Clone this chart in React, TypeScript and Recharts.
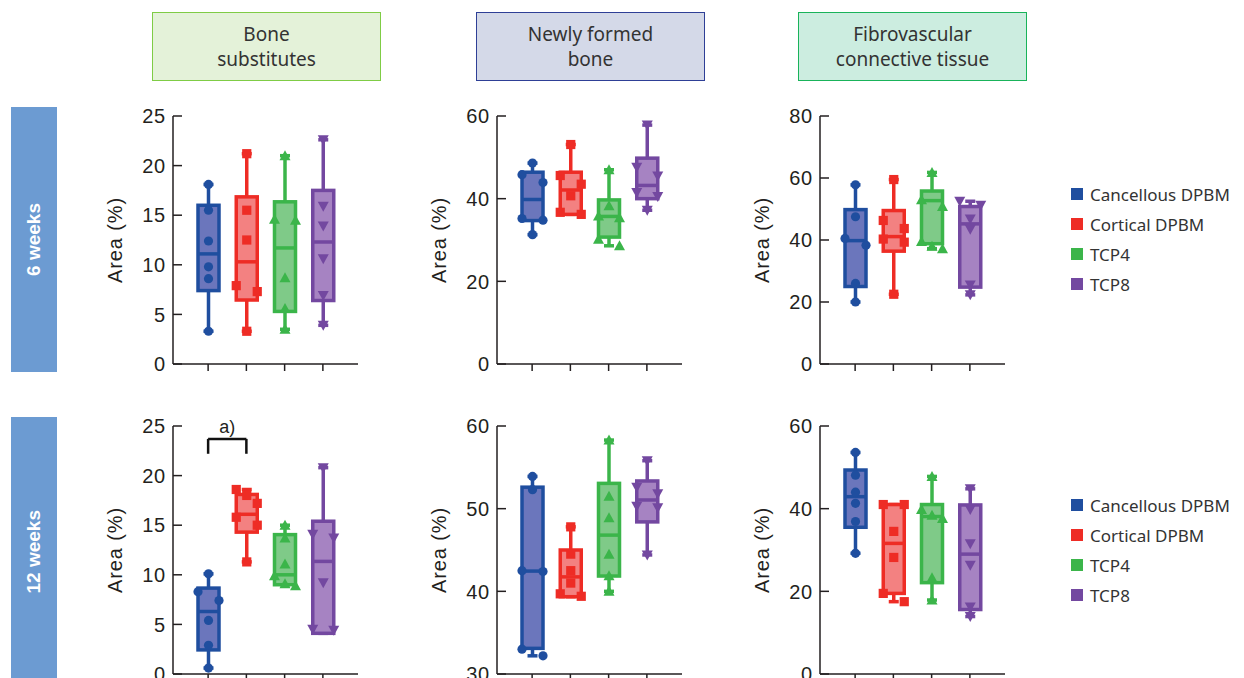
import React from 'react';
import { ComposedChart, Bar, XAxis, YAxis, ReferenceLine } from 'recharts';

const groups = ['Cancellous DPBM', 'Cortical DPBM', 'TCP4', 'TCP8'];
const strokeColors = ['#1f4e9f', '#ee2c25', '#3bb54a', '#7348a0'];
const fillColors = ['#6b76bc', '#f38181', '#7fca88', '#a683c2'];

const columnTitles = [['Bone', 'substitutes'], ['Newly formed', 'bone'], ['Fibrovascular', 'connective tissue']];
const rowTitles = ['6 weeks', '12 weeks'];

// stats per group: [min, q1, median, q3, max]
const bone6Stats = [[3.3, 7.4, 11.1, 16.0, 18.1], [3.3, 6.45, 10.3, 16.85, 21.2], [3.5, 5.3, 11.7, 16.35, 21.0], [3.9, 6.4, 12.3, 17.5, 22.6]];
const bone6Points = [[18.1, 15.5, 12.4, 9.8, 8.6, 3.3], [21.2, 15.5, 12.5, 7.9, 7.3, 3.3], [21.0, 14.6, 14.5, 8.7, 5.6, 3.5], [22.6, 15.9, 13.9, 10.6, 6.9, 3.9]];

const new6Stats = [[31.3, 34.7, 39.8, 46.4, 48.6], [36.2, 36.2, 42.1, 46.4, 53.1], [28.6, 30.7, 35.7, 39.7, 47.0], [37.2, 40.0, 43.2, 49.8, 57.8]];
const new6Points = [[48.6, 45.8, 43.9, 35.2, 34.8, 31.3], [53.1, 45.6, 43.5, 40.7, 36.7, 36.2], [47.0, 38.3, 35.8, 35.4, 30.2, 28.6], [57.8, 47.6, 45.5, 41.5, 40.5, 37.2]];

const fib6Stats = [[20.0, 25.0, 39.8, 49.8, 57.8], [22.5, 36.4, 41.1, 49.5, 59.5], [37.2, 38.8, 52.7, 55.8, 61.8], [22.3, 24.8, 45.2, 50.8, 52.5]];
const fib6Points = [[57.8, 47.5, 40.5, 38.3, 26.0, 20.0], [59.5, 46.3, 43.7, 40.3, 39.3, 22.5], [61.8, 53.0, 50.8, 39.5, 38.0, 37.2], [52.5, 51.2, 46.8, 43.5, 25.5, 22.3]];

const bone12Stats = [[0.6, 2.43, 6.3, 8.66, 10.1], [11.3, 14.3, 16.1, 18.1, 18.6], [9.0, 9.0, 10.0, 14.05, 15.0], [4.1, 4.1, 11.35, 15.4, 20.8]];
const bone12Points = [[10.1, 8.3, 7.4, 5.4, 2.9, 0.6], [18.6, 18.0, 17.2, 15.8, 15.0, 11.3], [15.0, 13.7, 11.1, 9.9, 9.1, 8.9], [20.8, 14.1, 13.7, 9.2, 4.5, 4.4]];

const new12Stats = [[32.2, 33.1, 42.45, 52.6, 53.9], [39.35, 39.35, 41.75, 45.0, 47.8], [40.0, 41.85, 46.8, 53.06, 58.3], [44.4, 48.4, 51.05, 53.35, 55.8]];
const new12Points = [[53.9, 52.3, 42.5, 42.4, 33.0, 32.2], [47.8, 44.5, 42.5, 41.0, 39.7, 39.4], [58.3, 51.5, 48.9, 44.5, 41.9, 40.0], [55.8, 52.6, 51.8, 50.3, 50.1, 44.4]];

const fib12Stats = [[29.2, 35.5, 42.9, 49.35, 53.6], [17.5, 19.5, 31.6, 41.0, 41.0], [17.9, 22.1, 38.1, 41.0, 47.8], [13.9, 15.6, 29.0, 40.9, 44.8]];
const fib12Points = [[53.6, 48.1, 44.0, 41.3, 36.9, 29.2], [41.0, 41.0, 34.5, 28.2, 19.5, 17.5], [47.8, 39.8, 38.4, 37.6, 23.3, 17.9], [44.8, 39.8, 31.5, 26.3, 16.2, 13.9]];

const ticks25 = [0, 5, 10, 15, 20, 25];
const ticks60 = [0, 20, 40, 60];
const ticks80 = [0, 20, 40, 60, 80];
const ticks30to60 = [30, 40, 50, 60];

const FONT_AXIS = "'Liberation Sans', Arial, sans-serif";
const FONT_TEXT = "'Noto Sans', 'Open Sans', sans-serif";
const AXIS_COLOR = '#231f20';

function Marker({ kind, cx, cy, color }: { kind: number; cx: number; cy: number; color: string }) {
  if (kind === 0) return <circle cx={cx} cy={cy} r={4.6} fill={color} />;
  if (kind === 1) return <rect x={cx - 4.6} y={cy - 4.6} width={9.2} height={9.2} fill={color} />;
  if (kind === 2) return <polygon points={`${cx},${cy - 5.5} ${cx + 5.5},${cy + 4.5} ${cx - 5.5},${cy + 4.5}`} fill={color} />;
  return <polygon points={`${cx},${cy + 5.5} ${cx + 5.5},${cy - 4.5} ${cx - 5.5},${cy - 4.5}`} fill={color} />;
}

function BoxShape(props: any) {
  const { x, y, width, height, payload } = props;
  const idx: number = payload.idx;
  const stats: number[] = payload.stats;
  const pts: number[] = payload.points;
  const [mn, q1, med, q3, mx] = stats;
  const top = Math.min(y, y + height);
  const bottom = Math.max(y, y + height);
  const ppu = (bottom - top) / (mx - mn);
  const py = (v: number) => bottom - (v - mn) * ppu;
  const cx = x + width / 2;
  const stroke = strokeColors[idx];
  const fill = fillColors[idx];
  const sw = 3.5;
  const capW = 5;
  // spread near-overlapping points horizontally (beeswarm-like)
  const sorted = pts.map((v) => ({ v, y: py(v) })).sort((a, b) => a.y - b.y);
  const clusters: { v: number; y: number }[][] = [];
  sorted.forEach((p) => {
    const last = clusters[clusters.length - 1];
    if (last && p.y - last[last.length - 1].y < 9) last.push(p);
    else clusters.push([p]);
  });
  const placed: { cx: number; cy: number }[] = [];
  clusters.forEach((c) => {
    c.forEach((p, i) => {
      let off = 0;
      if (c.length > 1) off = -width / 2 + (i * width) / (c.length - 1);
      placed.push({ cx: cx + off, cy: p.y });
    });
  });
  return (
    <g>
      <line x1={cx} x2={cx} y1={py(mx)} y2={py(mn)} stroke={stroke} strokeWidth={sw} />
      <line x1={cx - capW} x2={cx + capW} y1={py(mx)} y2={py(mx)} stroke={stroke} strokeWidth={sw} />
      <line x1={cx - capW} x2={cx + capW} y1={py(mn)} y2={py(mn)} stroke={stroke} strokeWidth={sw} />
      <rect x={x} y={py(q3)} width={width} height={Math.max(0.5, py(q1) - py(q3))} fill={fill} stroke={stroke} strokeWidth={sw} />
      <line x1={x} x2={x + width} y1={py(med)} y2={py(med)} stroke={stroke} strokeWidth={sw} />
      {placed.map((p, i) => (
        <Marker key={i} kind={idx} cx={p.cx} cy={p.cy} color={stroke} />
      ))}
    </g>
  );
}

function YTick(props: any) {
  const { x, y, payload } = props;
  return (
    <g>
      <line x1={x + 6} x2={x + 15} y1={y} y2={y} stroke={AXIS_COLOR} strokeWidth={1.5} />
      <text x={x - 1} y={y} dy="0.36em" textAnchor="end" fontSize={20} letterSpacing={0.8} fontFamily={FONT_AXIS} fill={AXIS_COLOR}>
        {payload.value}
      </text>
    </g>
  );
}

function AreaLabel(props: any) {
  const vb = props.viewBox || { x: 0, y: 0, width: 0, height: 0 };
  const lx = vb.x + 15;
  const ly = vb.y + vb.height / 2;
  return (
    <text x={lx} y={ly} transform={`rotate(-90, ${lx}, ${ly})`} textAnchor="middle" dominantBaseline="central" fontSize={20} letterSpacing={0.9} fontFamily={FONT_AXIS} fill={AXIS_COLOR}>
      Area (%)
    </text>
  );
}

type PanelProps = {
  stats: number[][];
  points: number[][];
  domain: [number, number];
  ticks: number[];
  left: number;
  top: number;
  bracket?: boolean;
};

function Panel({ stats, points, domain, ticks, left, top, bracket }: PanelProps) {
  const data = groups.map((g, i) => ({
    group: g,
    idx: i,
    range: [stats[i][0], stats[i][4]],
    stats: stats[i],
    points: points[i],
  }));
  return (
    <div style={{ position: 'absolute', left, top }}>
      <ComposedChart width={268} height={284} data={data} margin={{ top: 16, right: 10, bottom: 0, left: 0 }}>
        <XAxis
          dataKey="group"
          padding={{ left: 16, right: 16 }}
          height={20}
          tickSize={7}
          tickFormatter={() => ''}
          axisLine={{ stroke: AXIS_COLOR, strokeWidth: 1.5 }}
          tickLine={{ stroke: AXIS_COLOR, strokeWidth: 1.5 }}
        />
        <YAxis
          type="number"
          domain={domain}
          ticks={ticks}
          width={73}
          tickSize={0}
          tickMargin={6}
          tickLine={false}
          axisLine={{ stroke: AXIS_COLOR, strokeWidth: 1.5 }}
          tick={<YTick />}
          label={<AreaLabel />}
          allowDataOverflow
        />
        <Bar dataKey="range" barSize={21} isAnimationActive={false} shape={<BoxShape />} />
        {bracket && (
          <ReferenceLine
            segment={[{ x: groups[0], y: 23.7 }, { x: groups[1], y: 23.7 }]}
            stroke="#111"
            strokeWidth={2.5}
            ifOverflow="visible"
            label={{ value: 'a)', position: 'top', fontSize: 18, fontFamily: FONT_AXIS, fill: AXIS_COLOR, offset: 6 }}
          />
        )}
        {bracket && (
          <ReferenceLine segment={[{ x: groups[0], y: 23.7 }, { x: groups[0], y: 22.2 }]} stroke="#111" strokeWidth={2.5} ifOverflow="visible" />
        )}
        {bracket && (
          <ReferenceLine segment={[{ x: groups[1], y: 23.7 }, { x: groups[1], y: 22.2 }]} stroke="#111" strokeWidth={2.5} ifOverflow="visible" />
        )}
      </ComposedChart>
    </div>
  );
}

function Legend({ top }: { top: number }) {
  return (
    <div style={{ position: 'absolute', left: 1071, top }}>
      {groups.map((g, i) => (
        <div key={g} style={{ display: 'flex', alignItems: 'center', height: 30 }}>
          <div style={{ width: 12, height: 12, background: strokeColors[i], marginRight: 7 }} />
          <span style={{ fontFamily: FONT_TEXT, fontSize: 17, color: '#333', whiteSpace: 'nowrap' }}>{g}</span>
        </div>
      ))}
    </div>
  );
}

const headerStyles = [
  { left: 152, bg: '#e4f2d9', border: '#7fcc45' },
  { left: 476, bg: '#d4d9e8', border: '#2e3f96' },
  { left: 798, bg: '#ccede0', border: '#19b35a' },
];

export default function App() {
  return (
    <div style={{ position: 'absolute', left: 0, top: 0, width: 1244, height: 678, overflow: 'hidden', background: '#fff' }}>
      {columnTitles.map((t, i) => (
        <div
          key={i}
          style={{
            position: 'absolute',
            left: headerStyles[i].left,
            top: 12,
            width: 229,
            height: 69,
            boxSizing: 'border-box',
            background: headerStyles[i].bg,
            border: `1.5px solid ${headerStyles[i].border}`,
            display: 'flex',
            flexDirection: 'column',
            alignItems: 'center',
            justifyContent: 'center',
            fontFamily: FONT_TEXT,
            fontSize: 19,
            lineHeight: '25px',
            color: '#333',
          }}
        >
          <div>{t[0]}</div>
          <div>{t[1]}</div>
        </div>
      ))}
      {rowTitles.map((t, i) => (
        <div
          key={t}
          style={{
            position: 'absolute',
            left: 11,
            top: i === 0 ? 107 : 417,
            width: 46,
            height: i === 0 ? 265 : 270,
            background: '#6c9bd2',
            display: 'flex',
            alignItems: 'center',
            justifyContent: 'center',
          }}
        >
          <span
            style={{
              writingMode: 'vertical-rl',
              transform: 'rotate(180deg)',
              color: '#fff',
              fontFamily: FONT_AXIS,
              fontWeight: 700,
              fontSize: 19,
              whiteSpace: 'nowrap',
            }}
          >
            {t}
          </span>
        </div>
      ))}
      <Panel stats={bone6Stats} points={bone6Points} domain={[0, 25]} ticks={ticks25} left={100} top={100} />
      <Panel stats={new6Stats} points={new6Points} domain={[0, 60]} ticks={ticks60} left={424} top={100} />
      <Panel stats={fib6Stats} points={fib6Points} domain={[0, 80]} ticks={ticks80} left={747} top={100} />
      <Panel stats={bone12Stats} points={bone12Points} domain={[0, 25]} ticks={ticks25} left={100} top={410} bracket />
      <Panel stats={new12Stats} points={new12Points} domain={[30, 60]} ticks={ticks30to60} left={424} top={410} />
      <Panel stats={fib12Stats} points={fib12Points} domain={[0, 60]} ticks={ticks60} left={747} top={410} />
      <Legend top={179} />
      <Legend top={490} />
    </div>
  );
}
